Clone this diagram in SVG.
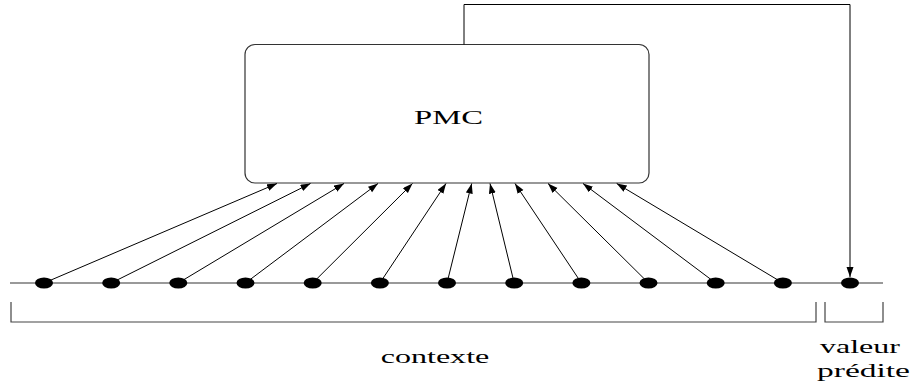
<svg xmlns="http://www.w3.org/2000/svg" width="913" height="389" viewBox="0 0 913 389">
  <style>
    .box { fill: #ffffff; stroke: #333333; stroke-width: 1.2; }
    .axis { stroke: #999999; stroke-width: 2; fill: none; }
    .dot { fill: #000000; }
    .edge { stroke: #000000; stroke-width: 1; fill: none; marker-end: url(#head); }
    .brace { stroke: #444444; stroke-width: 1.2; fill: none; }
    .lbl { font-family: "Liberation Serif", "Times New Roman", serif; font-size: 19px; fill: #000000; }
  </style>
  <defs>
    <marker id="head" markerUnits="userSpaceOnUse" markerWidth="11" markerHeight="8" refX="10" refY="3.5" orient="auto">
      <path d="M0,0 L10,3.5 L0,7 z" fill="#000000"/>
    </marker>
  </defs>

  <rect width="913" height="389" fill="#ffffff"/>

  <!-- time axis -->
  <line class="axis" x1="10" y1="283" x2="883" y2="283"/>

  <!-- network block -->
  <g id="pmc">
    <rect class="box" x="245" y="44.5" width="404" height="138.5" rx="10" ry="10"/>
    <text class="lbl" x="414" y="124" textLength="69" lengthAdjust="spacingAndGlyphs">PMC</text>
  </g>

  <!-- connectors: context samples into the block, block output back to the predicted sample -->
  <g id="connectors">
    <line class="edge" x1="44" y1="283" x2="277" y2="183.5"/>
    <line class="edge" x1="111.2" y1="283" x2="310.5" y2="183.5"/>
    <line class="edge" x1="178.3" y1="283" x2="344" y2="183.5"/>
    <line class="edge" x1="245.5" y1="283" x2="378" y2="183.5"/>
    <line class="edge" x1="312.7" y1="283" x2="412.5" y2="183.5"/>
    <line class="edge" x1="379.9" y1="283" x2="446" y2="183.5"/>
    <line class="edge" x1="447" y1="283" x2="471.7" y2="183.5"/>
    <line class="edge" x1="514.2" y1="283" x2="490" y2="183.5"/>
    <line class="edge" x1="581.4" y1="283" x2="515" y2="183.5"/>
    <line class="edge" x1="648.5" y1="283" x2="548" y2="183.5"/>
    <line class="edge" x1="715.7" y1="283" x2="583" y2="183.5"/>
    <line class="edge" x1="782.9" y1="283" x2="616.7" y2="183.5"/>
    <polyline class="edge" points="464,44.5 464,4.5 850,4.5 850,277"/>
  </g>

  <!-- samples -->
  <g id="samples">
    <ellipse id="s0" class="dot" cx="44" cy="283" rx="9" ry="5.5"/>
    <ellipse id="s1" class="dot" cx="111.2" cy="283" rx="9" ry="5.5"/>
    <ellipse id="s2" class="dot" cx="178.3" cy="283" rx="9" ry="5.5"/>
    <ellipse id="s3" class="dot" cx="245.5" cy="283" rx="9" ry="5.5"/>
    <ellipse id="s4" class="dot" cx="312.7" cy="283" rx="9" ry="5.5"/>
    <ellipse id="s5" class="dot" cx="379.9" cy="283" rx="9" ry="5.5"/>
    <ellipse id="s6" class="dot" cx="447" cy="283" rx="9" ry="5.5"/>
    <ellipse id="s7" class="dot" cx="514.2" cy="283" rx="9" ry="5.5"/>
    <ellipse id="s8" class="dot" cx="581.4" cy="283" rx="9" ry="5.5"/>
    <ellipse id="s9" class="dot" cx="648.5" cy="283" rx="9" ry="5.5"/>
    <ellipse id="s10" class="dot" cx="715.7" cy="283" rx="9" ry="5.5"/>
    <ellipse id="s11" class="dot" cx="782.9" cy="283" rx="9" ry="5.5"/>
    <ellipse id="s12" class="dot" cx="850" cy="283" rx="9" ry="5.5"/>
  </g>

  <!-- brackets and their labels -->
  <g id="contexte">
    <polyline class="brace" points="11,302 11,322 816,322 816,302"/>
    <text class="lbl" x="380.7" y="362.7" textLength="108.6" lengthAdjust="spacingAndGlyphs">contexte</text>
  </g>
  <g id="prediction">
    <polyline class="brace" points="825,302 825,322 883,322 883,302"/>
    <text class="lbl" x="820" y="353" textLength="80" lengthAdjust="spacingAndGlyphs">valeur</text>
    <text class="lbl" x="817" y="376.5" textLength="93" lengthAdjust="spacingAndGlyphs">prédite</text>
  </g>
</svg>
